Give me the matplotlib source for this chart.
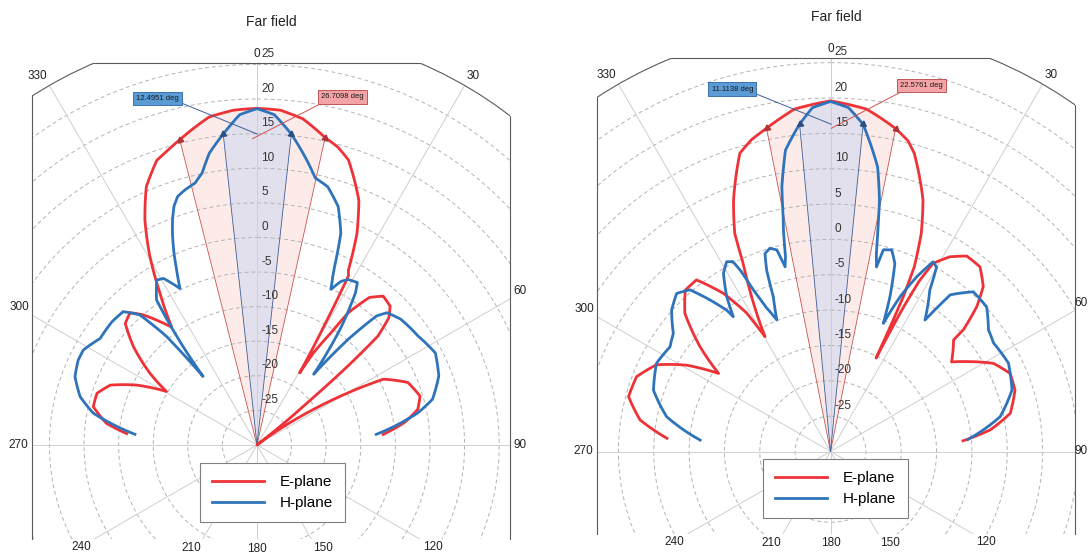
import numpy as np
import matplotlib.pyplot as plt
import matplotlib.patches as mpatches
from matplotlib.lines import Line2D

plt.rcParams['font.family'] = ['Liberation Sans', 'DejaVu Sans']

W, H = 1089, 556

# left chart, theta in deg, gain in dB
theta_e_l = [-85, -81.8, -76.8, -72.1, -67.8, -63.5, -59.4, -56.2, -51.5, -47.3, -43.8, -41.2, -38.2,
             -35.9, -32.6, -29.5, -26.5, -23.2, -19.4, -17.1, -14.2, -11, -8.3, -4, 0, 4, 8, 12.5, 15.2,
             17.8, 22.6, 25.3, 27.6, 28.4, 29.4, 30.6, 31.5, 33.4, 34.6, 37.3, 40.3, 43.8, 46, 48, 49,
             50, 52, 54.5, 57.8, 60.2, 62.5, 67.5, 73.3, 77.5, 81.4, 85.2]
db_e_l = [-11.1, -8.0, -5.7, -5.7, -7.1, -10.6, -14.8, -11.4, -7.2, -4.1, -3.5, -5.0, -7.3,
          -9.0, -4.0, 1.5, 6.3, 10.6, 13.6, 14.4, 15.5, 16.8, 17.9, 18.5, 18.65, 18.5, 17.6, 15.5, 14.6,
          13.25, 8.3, 3.8, -1.5, -2.2, -10.3, -17.9, -14.4, -10.6, -6.8, -3.2, -1.8, -2.2, -3.5, -6.5, -12.5,
          -20.5, -30, -27, -20.3, -14.8, -9.4, -6.4, -5.4, -6.2, -8.5, -11.7]
theta_h_l = [-85, -79, -74.7, -69.4, -64.6, -61.3, -55.8, -49.7, -45.1, -42, -39.8, -38.2, -36.9, -35.9,
             -34.7, -31.3, -29.3, -26.2, -24.4, -23.4, -21.8, -20.6, -19.2, -17.7, -15.8, -13.3, -11.4,
             -9.3, -6.2, -3, 0, 3, 6.3, 9.9, 12.3, 15.3, 18.8, 21.6, 23.5, 24.2, 25.4, 27.2, 28.9, 31.7,
             32.9, 35.5, 38.7, 40.8, 42.8, 44.5, 48.8, 55.9, 62.7, 69.2, 75.4, 78.7, 84.9]
db_h_l = [-12.3, -5.9, -3.5, -1.9, -1.4, -1.4, -2.6, -2.5, -2.7, -4.7, -9.6, -17.4, -12.2, -8.6,
          -4.5, -2.1, -2.4, -4.8, -1.7, 0.2, 2.9, 4.7, 6.5, 7.7, 8.3, 8.9, 10.1,
          12.7, 15.2, 17.8, 18.6, 17.8, 15.2, 11.8, 9.5, 8.7, 6.4, 2.9, -1.9, -3.3, -5.1, -3.4, -2.7, -2.4,
          -3.8, -9.0, -16.9, -9.8, -4.6, -3.2, -2.4, -1.9, -1.0, -1.9, -3.8, -6.3, -12.7]

# right chart
theta_e_r = [-85.4, -80.6, -74.8, -68.9, -63.5, -59, -55.1, -51.2, -46.5, -42, -38, -34.1, -31.2, -29.7,
             -27, -24.9, -23.7, -21.1, -16.9, -14.2, -11.2, -6, 0, 6, 11.4, 14, 15.7, 20.2, 22.6, 24.4,
             25.2, 26, 26.8, 27.5, 28.6, 31.5, 34.9, 39, 42.8, 45.3, 47.5, 47.8, 53.5, 56.6, 61.6, 66.5,
             71.6, 78, 82.3, 85.4]
db_e_r = [-6.8, -2.7, -0.4, -0.6, -2.5, -6.3, -10.7, -6.3, -1.6, 0.7, 0.8, -3.0, -7.1, -11.3,
          -5.4, -0.7, 3.7, 8.1, 14.1, 15.5, 16.6, 18.7, 19.6, 18.7, 16.6, 15.3, 13.8, 7.9, 3.4, -1.3,
          -6, -15.3, -7.3, -2.8, 0.3, 2.3, 3.7, 3.6, 1.8, -0.9, -4.5, -6.5, -8.7, -6.9, -3.8, -2.3,
          -2.5, -4.0, -7.2, -11.2]
theta_h_r = [-85, -78, -70.9, -63.1, -56.9, -53.1, -48.3, -44.2, -41, -38.5, -36.3, -35.8, -33.8, -31,
             -28.7, -27.2, -26.4, -25.6, -24.2, -22.2, -20.3, -19.4, -18.3, -16.6, -14.9, -14.3, -13.8,
             -13, -12, -11.4, -10.4, -8.5, -5.4, -3, 0, 3, 5.7, 9.4, 11, 12, 13, 14, 14.7, 16.9, 18.9,
             21, 22.4, 24.2, 26.3, 28.4, 29.9, 31.6, 35.7, 36.6, 37.4, 41.8, 47.2, 52.4, 56.4, 63.6,
             71.3, 78.4, 82, 85]
db_h_r = [-11.5, -6.3, -3.5, -2.4, -2.9, -2.2, 0.1, 1.2, 0.3, -2.6, -5.2, -6.5, -3.6, -0.6,
          0.6, 0.2, -1.5, -4.5, -7.5, -9.9, -6.7, -2.8, -0.5, 0.0, -0.5, -2.1, -3.1,
          -1.7, 2.0, 3.9, 8.1, 13.1, 16.5, 18.7, 19.5, 18.7, 16.5, 10.8, 6.3, 2.3, -1.2, -3.1, -0.5, -0.2, -1.9,
          -6.5, -10.4, -6.0, -2.4, 0.5, 0.1, -3.2, -7.1, -4.5, -2.1, 0.3, 0.1, -1.8, -2.3, -1.9,
          -2.9, -5.5, -8.2, -10.5]

# 3 dB beam edges (deg) and labels
beam_e_l, beam_h_l = (-14.2, 12.5), (-6.2, 6.3)
beam_e_r, beam_h_r = (-11.2, 11.4), (-5.4, 5.7)
bw_text_e_l, bw_text_h_l = '26.7098 deg', '12.4951 deg'
bw_text_e_r, bw_text_h_r = '22.5761 deg', '11.1138 deg'

rings = [-25, -20, -15, -10, -5, 0, 5, 10, 15, 20, 25]
angles = list(range(0, 360, 30))

RED = '#ee3338'
BLUE = '#2f74ba'

fig = plt.figure(figsize=(W / 100, H / 100), dpi=100)


def panel(cx, cy, k, box, th_e, db_e, th_h, db_h, be, bh, te, tb, pos_e, pos_h, leg_xy, title_xy):
    R = 60 * k
    ax = fig.add_axes([(cx - R) / W, 1 - (cy + R) / H, 2 * R / W, 2 * R / H], projection='polar')
    ax.set_theta_zero_location('N')
    ax.set_theta_direction(-1)
    ax.set_xticks([])
    ax.set_yticks([])
    ax.grid(False)
    ax.patch.set_visible(False)
    ax.set_autoscale_on(False)
    ax.set_ylim(-30, 30)

    x0, y0, x1, y1 = box
    clip = mpatches.Rectangle((x0 / W, 1 - y1 / H), (x1 - x0) / W, (y1 - y0) / H,
                              transform=fig.transFigure)

    # grid
    tt = np.linspace(0, 2 * np.pi, 361)
    for v in rings:
        ax.plot(tt, np.full_like(tt, v), color='#b3b3b3', lw=0.7, ls=(0, (4, 3)), zorder=1.5)
    for a in angles:
        ax.plot(np.deg2rad([a, a]), [-30, 30], color='#cfcfcf', lw=0.7, zorder=1.5)

    # beam sectors
    mids = []
    for th, db, edges, fc, lc, mc in [(th_e, db_e, be, '#fcebe9', '#c9544f', '#a8353a'),
                                      (th_h, db_h, bh, '#e1e0ec', '#3e5f97', '#2b4e86')]:
        th = np.array(th)
        db = np.array(db)
        m = (th >= edges[0]) & (th <= edges[1])
        sec = ax.fill(np.deg2rad(np.r_[edges[0], th[m], edges[1]]), np.r_[-30, db[m], -30],
                      color=fc, lw=0, zorder=1)[0]
        sec.get_path()._interpolation_steps = 12
        rr = [db[th == e][0] for e in edges]
        for e, r in zip(edges, rr):
            ax.plot(np.deg2rad([e, e]), [-30, r], color=lc, lw=0.6, zorder=2)
            ax.plot(np.deg2rad(e), r, marker=(3, 0, -e), ms=5, color=mc, ls='none', zorder=4)
        p = ax.transData.transform(np.column_stack([np.deg2rad(edges), rr]))
        mids.append(p.mean(axis=0))

    le, = ax.plot(np.deg2rad(th_e), db_e, color=RED, lw=2, zorder=3, label='E-plane',
                  solid_joinstyle='round')
    lh, = ax.plot(np.deg2rad(th_h), db_h, color=BLUE, lw=2, zorder=3.1, label='H-plane',
                  solid_joinstyle='round')
    # draw each segment as a polar (theta, r) sweep, like a polar plot tool does
    for ln in (le, lh):
        ln.get_path()._interpolation_steps = 12

    for art in [*ax.lines, *ax.patches]:
        art.set_clip_path(clip)
    sp = ax.spines['polar']
    sp.set_edgecolor('#5a5a5a')
    sp.set_linewidth(0.8)
    sp.set_clip_path(clip)

    # straight frame edges, cut by the outer circle
    for xs, ys in [([x0, x0], [y0, y1]), ([x0, x1], [y0, y0]), ([x1, x1], [y0, y1])]:
        ln = Line2D(np.array(xs) / W, 1 - np.array(ys) / H, transform=fig.transFigure,
                    color='#5a5a5a', lw=0.8)
        ln.set_clip_path(ax.patch)
        fig.add_artist(ln)

    # radial labels
    for v in rings:
        ax.annotate(str(v), xy=(0, v), xytext=(3, 3.2), textcoords='offset points',
                    ha='left', va='bottom', fontsize=8.5, color='#333333', zorder=6)

    # angle labels at the frame
    for a in angles:
        dx, dy = np.sin(np.deg2rad(a)), -np.cos(np.deg2rad(a))
        ts = [R]
        if dx > 1e-9:
            ts.append((x1 - cx) / dx)
        if dx < -1e-9:
            ts.append((x0 - cx) / dx)
        if dy > 1e-9:
            ts.append((y1 - cy) / dy)
        if dy < -1e-9:
            ts.append((y0 - cy) / dy)
        t = min(ts) + 3.5
        px, py = cx + t * dx, cy + t * dy
        ha = 'left' if dx > 0.25 else ('right' if dx < -0.25 else 'center')
        va = 'bottom' if dy < -0.25 else ('top' if dy > 0.25 else 'center')
        if ha == 'left' and px + 13 > W:
            px, ha = W - 1, 'right'
        fig.text(px / W, 1 - py / H, str(a), ha=ha, va=va, fontsize=8.5, color='#222222')

    # beamwidth boxes
    for txt, mid, (bx, by, rx), fc, ec, lc in [
            (te, mids[0], pos_e, '#f4a3a6', '#c0575a', '#c9544f'),
            (tb, mids[1], pos_h, '#5b9bd5', '#3a73ab', '#3e5f97')]:
        ax.annotate(txt, xy=mid, xycoords='figure pixels', xytext=(bx, H - by),
                    textcoords='figure pixels', ha='center', va='center', fontsize=5.5,
                    color='#1a1a1a', zorder=7,
                    bbox=dict(boxstyle='square,pad=0.42', fc=fc, ec=ec, lw=0.7),
                    arrowprops=dict(arrowstyle='-', color=lc, lw=0.7, shrinkA=0, shrinkB=0,
                                    relpos=(rx, 0)))

    lg = ax.legend(handles=[le, lh], loc='upper left', bbox_to_anchor=(leg_xy[0] / W, 1 - leg_xy[1] / H),
                   bbox_transform=fig.transFigure, borderaxespad=0, fancybox=False, framealpha=1,
                   edgecolor='#7f7f7f', fontsize=11, handlelength=3.4, handletextpad=1.0,
                   borderpad=0.8, labelspacing=0.45)
    lg.get_frame().set_linewidth(0.8)
    lg.set_zorder(8)

    fig.text(title_xy[0] / W, 1 - title_xy[1] / H, 'Far field', ha='center', va='center',
             fontsize=10, color='#222222')
    return ax


panel(257, 445, 6.92, (32, 63.3, 510, 539), theta_e_l, db_e_l, theta_h_l, db_h_l,
      beam_e_l, beam_h_l, bw_text_e_l, bw_text_h_l,
      (342.5, 96.9, 0.14), (157.3, 98.4, 1.0), (200, 463), (271.8, 21.7))
panel(830.5, 451.5, 7.07, (597, 58.3, 1075, 534), theta_e_r, db_e_r, theta_h_r, db_h_r,
      beam_e_r, beam_h_r, bw_text_e_r, bw_text_h_r,
      (921.7, 85.5, 0.15), (732.3, 89.2, 1.0), (763, 459), (836, 16.7))

fig.savefig('out.png', dpi=100, facecolor='white')
